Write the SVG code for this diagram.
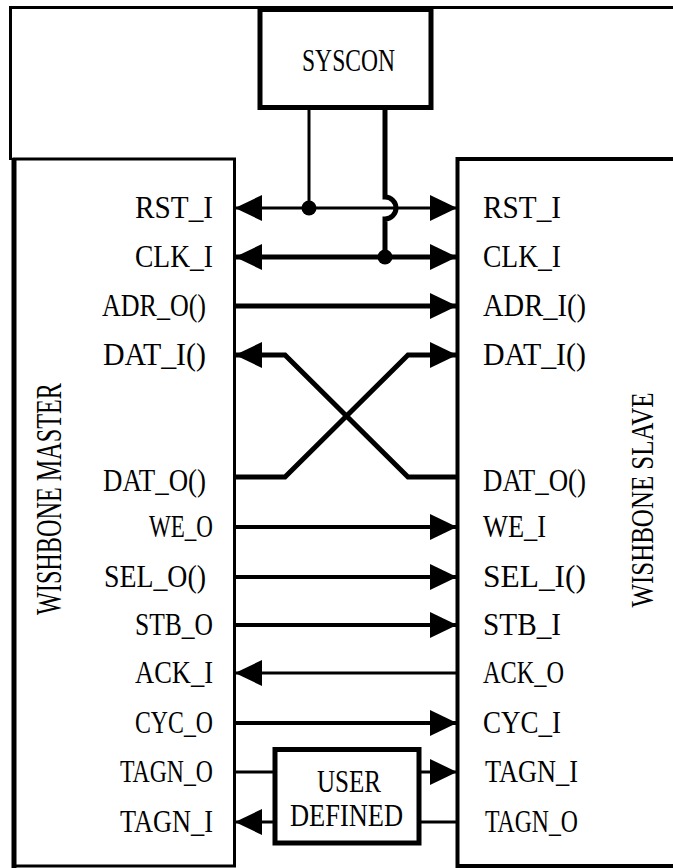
<svg xmlns="http://www.w3.org/2000/svg" width="673" height="868" viewBox="0 0 673 868">
<style>
.lbl{font-family:"Liberation Serif","Times New Roman",serif;font-size:31px;fill:#000}
.l{text-anchor:end}
.ln{stroke:#000;fill:none}
.box{fill:#fff;stroke:#000}
</style>
<defs>
<marker id="ah" viewBox="0 0 27 26" refX="26" refY="13" markerWidth="27" markerHeight="26" markerUnits="userSpaceOnUse" orient="auto-start-reverse">
<path d="M0,0 L27,13 L0,26 Z" fill="#000"/>
</marker>
</defs>
<rect width="673" height="868" fill="#fff"/>
<g id="frame">
<path class="ln" d="M10.5,160 V7.5 H673" stroke-width="3"/>
</g>
<g id="syscon">
<rect class="box" x="260" y="9.5" width="171" height="98" stroke-width="5"/>
<text class="lbl" x="302" y="71" textLength="93" lengthAdjust="spacingAndGlyphs">SYSCON</text>
</g>
<g id="master">
<path class="box" d="M14,159 H234.5 V866 H14 Z" stroke-width="3"/>
<path class="ln" d="M14,158 V868" stroke-width="5"/>
<text class="lbl" transform="translate(61,499) rotate(-90)" text-anchor="middle" textLength="232" lengthAdjust="spacingAndGlyphs" style="font-size:35px">WISHBONE MASTER</text>
<text class="lbl l" x="213" y="218" textLength="78" lengthAdjust="spacingAndGlyphs">RST_I</text>
<text class="lbl l" x="213" y="267" textLength="78" lengthAdjust="spacingAndGlyphs">CLK_I</text>
<text class="lbl l" x="206" y="316" textLength="104" lengthAdjust="spacingAndGlyphs">ADR_O()</text>
<text class="lbl l" x="206" y="365" textLength="103" lengthAdjust="spacingAndGlyphs">DAT_I()</text>
<text class="lbl l" x="206" y="491" textLength="103" lengthAdjust="spacingAndGlyphs">DAT_O()</text>
<text class="lbl l" x="213" y="537" textLength="64" lengthAdjust="spacingAndGlyphs">WE_O</text>
<text class="lbl l" x="206" y="587" textLength="102" lengthAdjust="spacingAndGlyphs">SEL_O()</text>
<text class="lbl l" x="213" y="635" textLength="78" lengthAdjust="spacingAndGlyphs">STB_O</text>
<text class="lbl l" x="213" y="683" textLength="78" lengthAdjust="spacingAndGlyphs">ACK_I</text>
<text class="lbl l" x="213" y="733" textLength="78" lengthAdjust="spacingAndGlyphs">CYC_O</text>
<text class="lbl l" x="213" y="782" textLength="93" lengthAdjust="spacingAndGlyphs">TAGN_O</text>
<text class="lbl l" x="213" y="832" textLength="93" lengthAdjust="spacingAndGlyphs">TAGN_I</text>
</g>
<g id="slave">
<path class="box" d="M673,159 H457.5 V866 H673" stroke-width="4"/>
<text class="lbl" transform="translate(653,500) rotate(-90)" text-anchor="middle" textLength="215" lengthAdjust="spacingAndGlyphs">WISHBONE SLAVE</text>
<text class="lbl" x="483" y="218" textLength="78" lengthAdjust="spacingAndGlyphs">RST_I</text>
<text class="lbl" x="483" y="267" textLength="78" lengthAdjust="spacingAndGlyphs">CLK_I</text>
<text class="lbl" x="483" y="316" textLength="103" lengthAdjust="spacingAndGlyphs">ADR_I()</text>
<text class="lbl" x="483" y="365" textLength="103" lengthAdjust="spacingAndGlyphs">DAT_I()</text>
<text class="lbl" x="483" y="491" textLength="103" lengthAdjust="spacingAndGlyphs">DAT_O()</text>
<text class="lbl" x="483" y="537" textLength="63" lengthAdjust="spacingAndGlyphs">WE_I</text>
<text class="lbl" x="483" y="587" textLength="103" lengthAdjust="spacingAndGlyphs">SEL_I()</text>
<text class="lbl" x="483" y="635" textLength="78" lengthAdjust="spacingAndGlyphs">STB_I</text>
<text class="lbl" x="483" y="683" textLength="81" lengthAdjust="spacingAndGlyphs">ACK_O</text>
<text class="lbl" x="483" y="733" textLength="78" lengthAdjust="spacingAndGlyphs">CYC_I</text>
<text class="lbl" x="485" y="782" textLength="93" lengthAdjust="spacingAndGlyphs">TAGN_I</text>
<text class="lbl" x="485" y="832" textLength="93" lengthAdjust="spacingAndGlyphs">TAGN_O</text>
</g>
<g id="user_defined">
<rect class="box" x="275" y="749.5" width="144" height="93.5" stroke-width="5"/>
<text class="lbl" x="317" y="792" textLength="64" lengthAdjust="spacingAndGlyphs">USER</text>
<text class="lbl" x="290" y="826" textLength="113" lengthAdjust="spacingAndGlyphs">DEFINED</text>
</g>
<g id="connectors">
<path class="ln" d="M309,110 V208" stroke-width="3"/>
<path class="ln" d="M385,110 V197 A11,11 0 0 1 385,219 V257" stroke-width="5"/>
<circle cx="309" cy="208" r="7.5" fill="#000"/>
<circle cx="385" cy="257" r="7.5" fill="#000"/>
<path class="ln" d="M236,208 H456" stroke-width="3" marker-start="url(#ah)" marker-end="url(#ah)"/>
<path class="ln" d="M236,257 H456" stroke-width="5" marker-start="url(#ah)" marker-end="url(#ah)"/>
<path class="ln" d="M236,306 H456" stroke-width="5" marker-end="url(#ah)"/>
<path class="ln" d="M457,477 H408 L285,355 H236" stroke-width="5" marker-end="url(#ah)"/>
<path class="ln" d="M236,477 H285 L408,355 H456" stroke-width="5" marker-end="url(#ah)"/>
<path class="ln" d="M236,527 H456" stroke-width="4" marker-end="url(#ah)"/>
<path class="ln" d="M236,577 H456" stroke-width="4" marker-end="url(#ah)"/>
<path class="ln" d="M236,625 H456" stroke-width="4" marker-end="url(#ah)"/>
<path class="ln" d="M457,673 H236" stroke-width="3" marker-end="url(#ah)"/>
<path class="ln" d="M236,723 H456" stroke-width="4" marker-end="url(#ah)"/>
<path class="ln" d="M236,772 H273" stroke-width="3"/>
<path class="ln" d="M421,772 H456" stroke-width="3" marker-end="url(#ah)"/>
<path class="ln" d="M457,822 H421" stroke-width="3"/>
<path class="ln" d="M273,822 H236" stroke-width="3" marker-end="url(#ah)"/>
</g>
</svg>
